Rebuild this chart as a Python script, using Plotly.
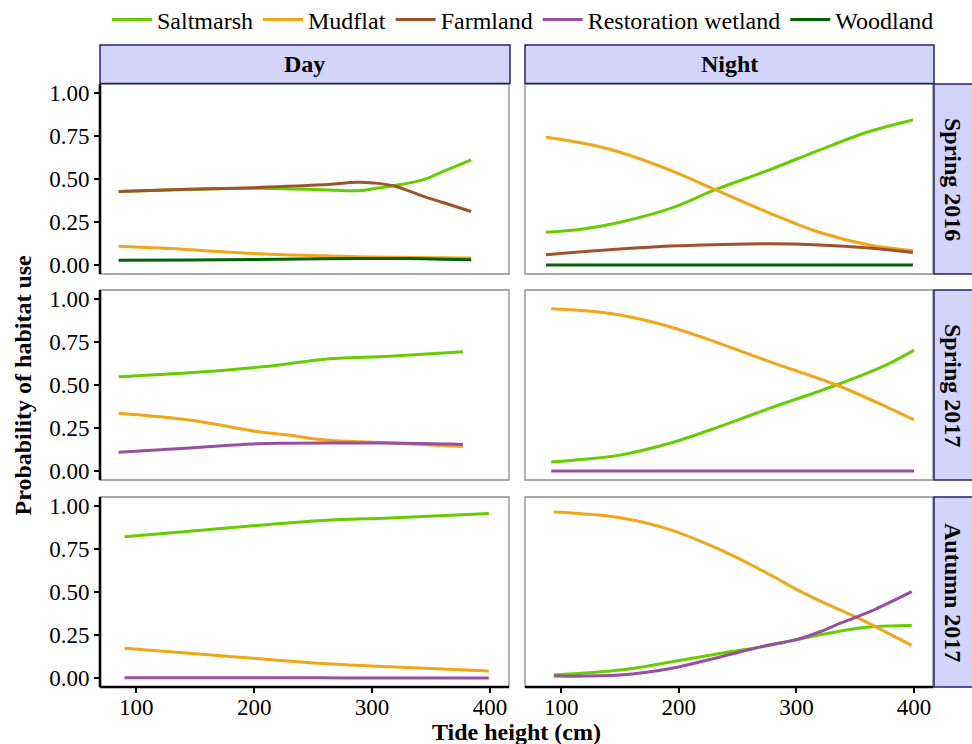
import plotly.graph_objects as go

# ---------------- data ----------------
series_names = ["Saltmarsh", "Mudflat", "Farmland", "Restoration wetland", "Woodland"]
series_colors = ["#66CD00", "#F2A516", "#A0522D", "#984EA3", "#006400"]

col_labels = ["Day", "Night"]
row_labels = ["Spring 2016", "Spring 2017", "Autumn 2017"]

x_ticks = [100, 200, 300, 400]
y_ticks = [0.0, 0.25, 0.5, 0.75, 1.0]
y_tick_text = ["0.00", "0.25", "0.50", "0.75", "1.00"]

# Spring 2016 - Day
tide_day_s16 = [85, 145, 200, 258, 287, 301, 318, 343, 360, 384]
saltmarsh_day_s16 = [0.428, 0.440, 0.447, 0.438, 0.432, 0.443, 0.461, 0.495, 0.543, 0.611]
mudflat_day_s16 = [0.110, 0.091, 0.068, 0.055, 0.050, 0.048, 0.047, 0.045, 0.044, 0.043]
farmland_day_s16 = [0.428, 0.440, 0.450, 0.466, 0.481, 0.477, 0.461, 0.401, 0.364, 0.312]
woodland_day_s16 = [0.029, 0.031, 0.034, 0.038, 0.040, 0.040, 0.040, 0.038, 0.036, 0.033]

# Spring 2016 - Night
tide_night_s16 = [87, 120, 150, 193, 231, 277, 320, 362, 399]
saltmarsh_night_s16 = [0.191, 0.212, 0.250, 0.330, 0.438, 0.553, 0.669, 0.775, 0.842]
mudflat_night_s16 = [0.742, 0.705, 0.655, 0.550, 0.438, 0.303, 0.190, 0.118, 0.085]
farmland_night_s16 = [0.062, 0.080, 0.095, 0.112, 0.120, 0.125, 0.118, 0.100, 0.075]
woodland_night_s16 = [0.002, 0.002, 0.002, 0.002, 0.002, 0.002, 0.002, 0.002, 0.002]

# Spring 2017 - Day
tide_day_s17 = [85, 145, 202, 227, 258, 315, 377]
saltmarsh_day_s17 = [0.548, 0.571, 0.602, 0.621, 0.648, 0.667, 0.692]
mudflat_day_s17 = [0.337, 0.298, 0.231, 0.212, 0.183, 0.164, 0.144]
restoration_day_s17 = [0.110, 0.135, 0.160, 0.163, 0.164, 0.164, 0.156]

# Spring 2017 - Night
tide_night_s17 = [91.5, 120, 150, 193, 235, 277.5, 334, 376, 400]
saltmarsh_night_s17 = [0.054, 0.070, 0.094, 0.164, 0.260, 0.366, 0.500, 0.615, 0.702]
mudflat_night_s17 = [0.942, 0.930, 0.905, 0.836, 0.740, 0.634, 0.500, 0.375, 0.298]
restoration_night_s17 = [0.002, 0.002, 0.002, 0.002, 0.002, 0.002, 0.002, 0.002, 0.002]

# Autumn 2017 - Day
tide_day_a17 = [90, 145, 202, 258, 315, 399]
saltmarsh_day_a17 = [0.820, 0.852, 0.885, 0.914, 0.929, 0.954]
mudflat_day_a17 = [0.174, 0.145, 0.115, 0.086, 0.067, 0.042]
restoration_day_a17 = [0.004, 0.004, 0.003, 0.003, 0.002, 0.002]

# Autumn 2017 - Night
tide_night_a17 = [93.7, 150, 193, 235, 277.5, 300, 320, 334, 352, 367, 398]
saltmarsh_night_a17 = [0.019, 0.048, 0.095, 0.144, 0.191, 0.224, 0.252, 0.270, 0.290, 0.300, 0.306]
mudflat_night_a17 = [0.963, 0.930, 0.860, 0.745, 0.600, 0.515, 0.448, 0.405, 0.350, 0.300, 0.191]
restoration_night_a17 = [0.013, 0.019, 0.057, 0.124, 0.195, 0.224, 0.270, 0.310, 0.358, 0.400, 0.502]

panels = [
    (0, 0, tide_day_s16, {"Saltmarsh": saltmarsh_day_s16, "Mudflat": mudflat_day_s16,
                          "Farmland": farmland_day_s16, "Woodland": woodland_day_s16}),
    (0, 1, tide_night_s16, {"Saltmarsh": saltmarsh_night_s16, "Mudflat": mudflat_night_s16,
                            "Farmland": farmland_night_s16, "Woodland": woodland_night_s16}),
    (1, 0, tide_day_s17, {"Saltmarsh": saltmarsh_day_s17, "Mudflat": mudflat_day_s17,
                          "Restoration wetland": restoration_day_s17}),
    (1, 1, tide_night_s17, {"Saltmarsh": saltmarsh_night_s17, "Mudflat": mudflat_night_s17,
                            "Restoration wetland": restoration_night_s17}),
    (2, 0, tide_day_a17, {"Saltmarsh": saltmarsh_day_a17, "Mudflat": mudflat_day_a17,
                          "Restoration wetland": restoration_day_a17}),
    (2, 1, tide_night_a17, {"Saltmarsh": saltmarsh_night_a17, "Mudflat": mudflat_night_a17,
                            "Restoration wetland": restoration_night_a17}),
]

# ---------------- layout geometry ----------------
W, H = 972, 744
ML, MR, MT, MB = 100, 39, 84, 57
PW, PH = W - ML - MR, H - MT - MB
col_px = [(100, 509), (525, 933)]
row_px = [(84, 274), (290, 480), (497, 687)]

def xdom(c):
    a, b = col_px[c]
    return [(a - ML) / PW, (b - ML) / PW]

def ydom(r):
    a, b = row_px[r]
    return [(H - MB - b) / PH, (H - MB - a) / PH]

FONT = "Liberation Serif"
fig = go.Figure()
shown = set()
color_of = dict(zip(series_names, series_colors))
rank_of = {n: i for i, n in enumerate(series_names)}

for (r, c, xs, ser) in panels:
    idx = r * 2 + c + 1
    xa = "x" if idx == 1 else f"x{idx}"
    ya = "y" if idx == 1 else f"y{idx}"
    for name in series_names:
        if name not in ser:
            continue
        fig.add_trace(go.Scatter(
            x=xs, y=ser[name], mode="lines", name=name,
            line=dict(color=color_of[name], width=3, shape="spline", smoothing=1.0),
            legendgroup=name, showlegend=name not in shown,
            legendrank=rank_of[name] + 1,
            xaxis=xa, yaxis=ya, hoverinfo="skip"))
        shown.add(name)

layout = dict(
    width=W, height=H,
    margin=dict(l=ML, r=MR, t=MT, b=MB, autoexpand=False),
    paper_bgcolor="white", plot_bgcolor="white",
    font=dict(family=FONT, size=23, color="black"),
    showlegend=True,
    legend=dict(orientation="h", x=(107 - ML) / PW, xanchor="left", y=1 + (MT - 20) / PH,
                yanchor="middle", font=dict(size=24, family=FONT), itemwidth=40,
                bgcolor="rgba(0,0,0,0)"),
)

shapes = []
annotations = []
for r in range(3):
    for c in range(2):
        idx = r * 2 + c + 1
        xk = "xaxis" if idx == 1 else f"xaxis{idx}"
        yk = "yaxis" if idx == 1 else f"yaxis{idx}"
        xa = "x" if idx == 1 else f"x{idx}"
        ya = "y" if idx == 1 else f"y{idx}"
        bottom = r == 2
        left = c == 0
        layout[xk] = dict(domain=xdom(c), anchor=ya, range=[69.2, 416.1],
                          showgrid=False, zeroline=False, showline=False,
                          tickvals=x_ticks, showticklabels=bottom,
                          ticks="outside" if bottom else "", ticklen=5, tickwidth=2,
                          ticklabelstandoff=-6,
                          tickcolor="black", tickfont=dict(size=23, family=FONT))
        layout[yk] = dict(domain=ydom(r), anchor=xa, range=[-0.05, 1.05],
                          showgrid=False, zeroline=False, showline=False,
                          tickvals=y_ticks, ticktext=y_tick_text, showticklabels=left,
                          ticks="outside" if left else "", ticklen=5, tickwidth=2,
                          tickcolor="black", tickfont=dict(size=23, family=FONT))
        shapes.append(dict(type="rect", xref=f"{xa} domain", yref=f"{ya} domain",
                           x0=0, x1=1, y0=0, y1=1, line=dict(color="#8C8C8C", width=1.3),
                           layer="above"))
        if left:
            shapes.append(dict(type="line", xref=f"{xa} domain", yref=f"{ya} domain",
                               x0=0, x1=0, y0=0, y1=1, line=dict(color="black", width=2.6),
                               layer="above"))
        if bottom:
            shapes.append(dict(type="line", xref=f"{xa} domain", yref=f"{ya} domain",
                               x0=0, x1=1, y0=0, y1=0, line=dict(color="black", width=2.6),
                               layer="above"))

STRIP_FILL = "#D4D4FA"
STRIP_LINE = "#23236B"
for c, lab in enumerate(col_labels):
    x0, x1 = xdom(c)
    y0 = 1 + (MT - 83.5) / PH
    y1 = 1 + (MT - 45) / PH
    shapes.append(dict(type="rect", xref="paper", yref="paper", x0=x0, x1=x1 + 1 / PW,
                       y0=y0, y1=y1, fillcolor=STRIP_FILL,
                       line=dict(color=STRIP_LINE, width=1.5), layer="above"))
    annotations.append(dict(text=f"<b>{lab}</b>", xref="paper", yref="paper",
                            x=(x0 + x1) / 2, y=(y0 + y1) / 2, showarrow=False,
                            xanchor="center", yanchor="middle",
                            font=dict(size=24, family=FONT, color="black")))
for r, lab in enumerate(row_labels):
    y0, y1 = ydom(r)
    x0 = (934 - ML) / PW
    x1 = (980 - ML) / PW
    shapes.append(dict(type="rect", xref="paper", yref="paper", x0=x0, x1=x1,
                       y0=y0, y1=y1, fillcolor=STRIP_FILL,
                       line=dict(color=STRIP_LINE, width=1.5), layer="above"))
    annotations.append(dict(text=f"<b>{lab}</b>", xref="paper", yref="paper",
                            x=(953 - ML) / PW, y=(y0 + y1) / 2, showarrow=False,
                            xanchor="center", yanchor="middle", textangle=90,
                            font=dict(size=24, family=FONT, color="black")))

annotations.append(dict(text="<b>Tide height (cm)</b>", xref="paper", yref="paper",
                        x=0.5, y=(H - MB - 731.5) / PH, showarrow=False,
                        xanchor="center", yanchor="middle",
                        font=dict(size=24, family=FONT, color="black")))
annotations.append(dict(text="<b>Probability of habitat use</b>", xref="paper", yref="paper",
                        x=(22 - ML) / PW, y=0.5, showarrow=False, textangle=-90,
                        xanchor="center", yanchor="middle",
                        font=dict(size=24, family=FONT, color="black")))

layout["shapes"] = shapes
layout["annotations"] = annotations
fig.update_layout(**layout)
fig.write_html("out.html", config={"displayModeBar": False},
               post_script="document.body.style.margin='0px';document.body.style.overflow='hidden';")
